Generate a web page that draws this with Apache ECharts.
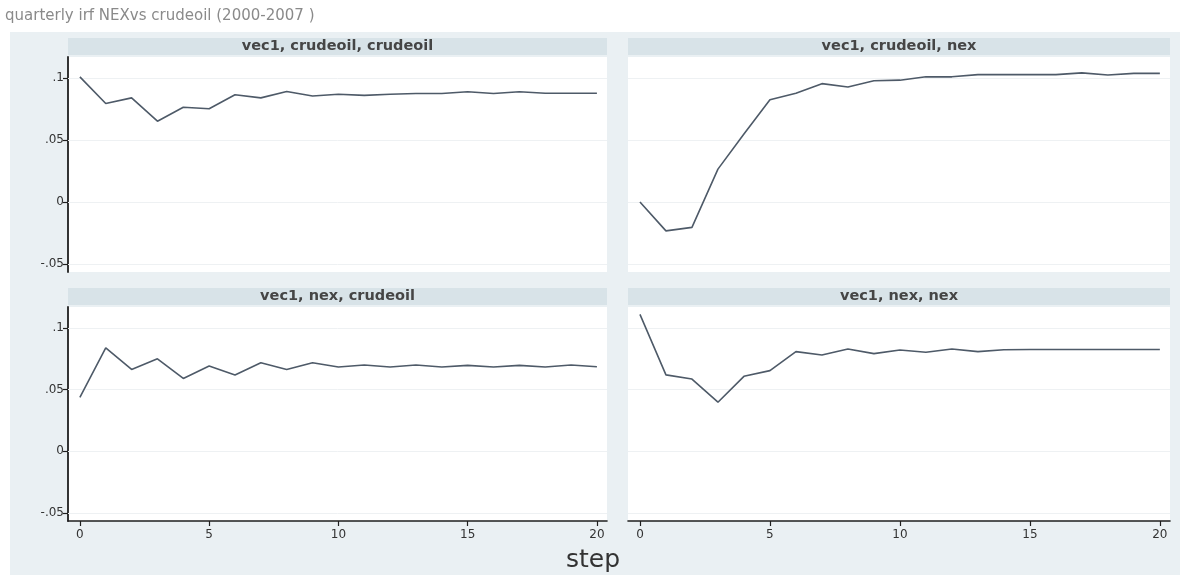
<!DOCTYPE html>
<html>
<head>
<meta charset="utf-8">
<script src="https://cdn.jsdelivr.net/npm/echarts@6/dist/echarts.min.js"></script>
<style>
  html, body { margin: 0; padding: 0; background: #ffffff; }
  #chart { width: 1185px; height: 578px; }
</style>
</head>
<body>
<div id="chart"></div>
<script>
// Impulse-response steps (quarters after the shock)
const steps = [0, 1, 2, 3, 4, 5, 6, 7, 8, 9, 10, 11, 12, 13, 14, 15, 16, 17, 18, 19, 20];

// Responses: impulse variable, response variable
const irfCrudeCrude = [0.101, 0.0795, 0.084, 0.0652, 0.0765, 0.0752, 0.0865, 0.084, 0.0892, 0.0855, 0.087,
                       0.086, 0.087, 0.0875, 0.0875, 0.089, 0.0875, 0.089, 0.0878, 0.0878, 0.0878];
const irfCrudeNex   = [0.0, -0.0233, -0.0205, 0.0265, 0.0548, 0.0825, 0.0878, 0.0955, 0.0928, 0.0978, 0.0983,
                       0.101, 0.101, 0.1028, 0.1028, 0.1028, 0.1028, 0.1042, 0.1025, 0.1038, 0.1038];
const irfNexCrude   = [0.0438, 0.0839, 0.0664, 0.075, 0.0591, 0.0691, 0.0618, 0.0718, 0.0664, 0.0718, 0.0683,
                       0.070, 0.0683, 0.070, 0.0683, 0.0697, 0.0683, 0.0697, 0.0683, 0.070, 0.0685];
const irfNexNex     = [0.111, 0.062, 0.0586, 0.0398, 0.0608, 0.0654, 0.0808, 0.0781, 0.083, 0.0792, 0.0822,
                       0.0803, 0.083, 0.0808, 0.0824, 0.0826, 0.0826, 0.0826, 0.0826, 0.0826, 0.0826];

const panelTitles = ['vec1, crudeoil, crudeoil', 'vec1, crudeoil, nex', 'vec1, nex, crudeoil', 'vec1, nex, nex'];
const xTicks = [0, 5, 10, 15, 20];
const yTicks = [-0.05, 0, 0.05, 0.1];

const chart = echarts.init(document.getElementById('chart'), null, { renderer: 'canvas' });

const panels = [
  { left: 68,  top: 57,  width: 539, height: 215, data: irfCrudeCrude, showY: true,  showX: false },
  { left: 628, top: 57,  width: 542, height: 215, data: irfCrudeNex,   showY: false, showX: false },
  { left: 68,  top: 307, width: 539, height: 214, data: irfNexCrude,   showY: true,  showX: true  },
  { left: 628, top: 307, width: 542, height: 214, data: irfNexNex,     showY: false, showX: true  }
];

// Stata-style tick labels: ".1", ".05", "0", "-.05"
function fmtY(v) {
  if (Math.abs(v) < 1e-9) return '0';
  return String(+v.toFixed(3)).replace(/^(-?)0\./, '$1.');
}

const axisColor = '#1f1f1f';
const labelFont = { fontFamily: 'DejaVu Sans, Verdana, sans-serif', fontSize: 11, color: '#333333' };

const grids = [], xAxes = [], yAxes = [], series = [], titles = [], graphics = [];

// figure background
graphics.push({ type: 'rect', shape: { x: 10, y: 32, width: 1170, height: 543 },
  style: { fill: '#eaf0f3' }, z: -10, silent: true });

panels.forEach((p, i) => {
  grids.push({ left: p.left, top: p.top, width: p.width, height: p.height,
    show: true, backgroundColor: '#ffffff', borderWidth: 0, containLabel: false });

  // header strip with panel title
  graphics.push({ type: 'rect', shape: { x: p.left, y: p.top - 19, width: p.width, height: 17 },
    style: { fill: '#d8e3e8' }, z: -5, silent: true });
  titles.push({
    text: panelTitles[i],
    left: p.left + p.width / 2, top: p.top - 19, textAlign: 'center',
    padding: 0,
    textStyle: { fontFamily: 'DejaVu Sans, Verdana, sans-serif', fontSize: 14.5, fontWeight: 'bold',
      color: '#454545', lineHeight: 17 }
  });

  xAxes.push({
    type: 'value', gridIndex: i, min: -0.46, max: 20.39, show: p.showX,
    axisLine: { show: true, onZero: false, lineStyle: { color: axisColor, width: 1.6 } },
    axisTick: { show: true, customValues: xTicks, length: 5, lineStyle: { color: axisColor, width: 1.2 } },
    axisLabel: Object.assign({ show: true, customValues: xTicks, margin: 8 }, labelFont, { fontSize: 12 }),
    splitLine: { show: false }
  });

  yAxes.push({
    type: 'value', gridIndex: i, min: -0.0565, max: 0.117, show: p.showY,
    axisLine: { show: true, onZero: false, lineStyle: { color: axisColor, width: 1.8 } },
    axisTick: { show: true, customValues: yTicks, length: 5, lineStyle: { color: axisColor, width: 1.2 } },
    axisLabel: Object.assign({ show: true, customValues: yTicks, margin: 4, formatter: fmtY }, labelFont, { fontSize: 12 }),
    splitLine: { show: false }
  });

  // faint horizontal grid lines, kept beneath the response line
  series.push({
    type: 'line', xAxisIndex: i, yAxisIndex: i, data: [], silent: true, z: 1,
    markLine: {
      z: 1,
      silent: true, symbol: 'none', animation: false,
      label: { show: false },
      lineStyle: { color: '#eef1f3', width: 1, type: 'solid' },
      data: yTicks.map(v => ({ yAxis: v }))
    }
  });

  series.push({
    type: 'line', xAxisIndex: i, yAxisIndex: i,
    data: steps.map((s, k) => [s, p.data[k]]),
    showSymbol: false, symbol: 'none', smooth: false,
    lineStyle: { color: '#4e5a68', width: 1.6 },
    silent: true,
    z: 6
  });
});

// figure heading and shared x-axis title
titles.push({
  text: 'quarterly irf NEXvs crudeoil (2000-2007 )', left: 5, top: 9, padding: 0,
  textStyle: { fontFamily: 'DejaVu Sans, sans-serif', fontSize: 15, fontWeight: 'normal', color: '#8a8a8a' }
});
titles.push({
  text: 'step', left: 593, top: 548, textAlign: 'center', padding: 0,
  textStyle: { fontFamily: 'DejaVu Sans, Verdana, sans-serif', fontSize: 25, fontWeight: 'normal', color: '#333333' }
});

chart.setOption({
  animation: false,
  backgroundColor: '#ffffff',
  title: titles,
  grid: grids,
  xAxis: xAxes,
  yAxis: yAxes,
  series: series,
  graphic: graphics
});
</script>
</body>
</html>
